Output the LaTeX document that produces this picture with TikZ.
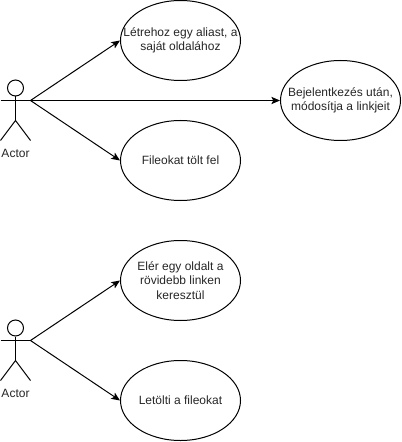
\documentclass[tikz,border=0pt]{standalone}
\usepackage{fontspec}
\setmainfont{Liberation Sans}
\usetikzlibrary{arrows.meta,shapes.geometric}
\tikzset{
  usecase/.style={draw=black,ellipse,line width=0.75pt,minimum width=90pt,minimum height=60pt,inner sep=0pt,
    label={[align=center,inner sep=0pt,font=\fontsize{9}{10.8}\selectfont,text=black!85]center:{#1}}},
  conn/.style={draw=black,line width=0.75pt,-{Stealth[length=6.5pt,width=5.5pt,inset=1.5pt]},shorten >=0pt},
  limb/.style={draw=black,line width=0.75pt},
  head/.style={draw=black,circle,line width=0.75pt,minimum size=12pt,inner sep=0pt},
  actorlabel/.style={font=\fontsize{9}{12}\selectfont,text=black!85,inner sep=0pt}
}
\begin{document}
\begin{tikzpicture}[x=0.75pt,y=-0.75pt]
\useasboundingbox (0,0) rectangle (402,442);
% use cases
\node[usecase={Létrehoz egy aliast, a\\saját oldalához}] (e1) at (180.5,40.5) {};
\node[usecase={Fileokat tölt fel}] (e2) at (180.5,160.5) {};
\node[usecase={Bejelentkezés után,\\módosítja a linkjeit}] (e3) at (340.5,100.5) {};
\node[usecase={Elér egy oldalt a\\rövidebb linken\\keresztül}] (e4) at (180.5,280.5) {};
\node[usecase={Letölti a fileokat}] (e5) at (180.5,400.5) {};
% actor 1
\node[head] (h1) at (15.5,88) {};
\coordinate (la1) at (0.5,100.5);
\coordinate (ra1) at (30.5,100.5);
\coordinate (hip1) at (15.5,120.5);
\coordinate (ll1) at (0.5,140.5);
\coordinate (rl1) at (30.5,140.5);
\draw[limb] (h1.south) -- (hip1);
\draw[limb] (la1) -- (ra1);
\draw[limb] (ll1) -- (hip1) -- (rl1);
\node[actorlabel] (a1) at (15.5,153.5) {Actor};
% actor 2
\node[head] (h2) at (15.5,328) {};
\coordinate (la2) at (0.5,340.5);
\coordinate (ra2) at (30.5,340.5);
\coordinate (hip2) at (15.5,360.5);
\coordinate (ll2) at (0.5,380.5);
\coordinate (rl2) at (30.5,380.5);
\draw[limb] (h2.south) -- (hip2);
\draw[limb] (la2) -- (ra2);
\draw[limb] (ll2) -- (hip2) -- (rl2);
\node[actorlabel] (a2) at (15.5,393.5) {Actor};
% connectors
\draw[conn] (ra1) -- (e1.west);
\draw[conn] (ra1) -- (e2.west);
\draw[conn] (ra1) -- (e3.west);
\draw[conn] (ra2) -- (e4.west);
\draw[conn] (ra2) -- (e5.west);
\end{tikzpicture}
\end{document}
